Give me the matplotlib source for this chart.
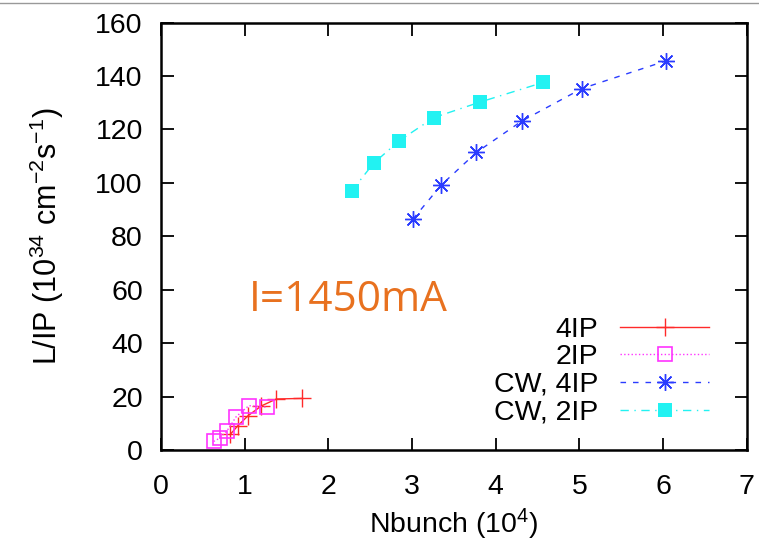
import matplotlib
matplotlib.use('Agg')
import matplotlib.pyplot as plt
from matplotlib.lines import Line2D

plt.rcParams['font.family'] = ['Liberation Sans', 'DejaVu Sans']
plt.rcParams['mathtext.fontset'] = 'custom'
plt.rcParams['mathtext.rm'] = 'Liberation Sans'
plt.rcParams['mathtext.it'] = 'Liberation Sans'

#------------------------------------------------------------------------------
# DATA

# 4IP
nb_4ip = [0.83, 0.92, 1.04, 1.20, 1.38, 1.68]
lum_4ip = [5.9, 9.1, 12.8, 16.5, 19.1, 19.3]

# 2IP
nb_2ip = [0.63, 0.70, 0.79, 0.90, 1.05, 1.27]
lum_2ip = [3.2, 4.4, 7.2, 12.5, 16.6, 16.0]

# CW, 4IP
nb_cw4 = [3.01, 3.35, 3.77, 4.31, 5.03, 6.04]
lum_cw4 = [86.4, 99.2, 111.4, 123.1, 135.3, 145.7]

# CW, 2IP
nb_cw2 = [2.28, 2.54, 2.85, 3.26, 3.81, 4.57]
lum_cw2 = [97.0, 107.3, 115.8, 124.4, 130.2, 137.6]

labels = ['4IP', '2IP', 'CW, 4IP', 'CW, 2IP']

#------------------------------------------------------------------------------
# PLOT THE GRAPH

fs = 20.5
fig = plt.figure(figsize=(7.59, 5.44), dpi=100)
ax = fig.add_axes([0.212, 0.1728, 0.772, 0.7858])

ax.plot(nb_4ip, lum_4ip, color='#ff2a2a', lw=1.0, ls='-', marker='+',
        ms=13, mew=1.0, label=labels[0])
ax.plot(nb_2ip, lum_2ip, color='#ff33ff', lw=1.0, ls=':', marker='s',
        ms=10, mfc='none', mew=1.2, label=labels[1])
ax.plot(nb_cw4, lum_cw4, color='#2a3cff', lw=1.0, ls=(0, (4, 5)), marker=(8, 2, 0),
        ms=12, mew=1.0, label=labels[2])
ax.plot(nb_cw2, lum_cw2, color='#22f2f2', lw=1.0, ls=(0, (6, 4, 1, 4)), marker='s',
        ms=10, mew=0, label=labels[3])

# Axis limits and ticks
ax.set_xlim(0, 7)
ax.set_ylim(0, 160)
ax.set_xticks(range(0, 8))
ax.set_yticks(range(0, 161, 20))
ax.tick_params(direction='in', top=True, right=True, length=9, width=1.3,
               labelsize=fs)
ax.tick_params(axis='x', pad=17)
ax.tick_params(axis='y', pad=13)
for sp in ax.spines.values():
    sp.set_linewidth(1.8)

# Axis labels
ax.set_ylabel('L/IP (10$^{34}$ cm$^{-2}$s$^{-1}$)', fontsize=22, labelpad=21)
ax.set_xlabel('Nbunch (10$^{4}$)', fontsize=fs, labelpad=5)

# Annotation
ax.text(1.05, 56, 'I=1450mA', fontsize=30.5, color='#e8711f',
        family=['Open Sans', 'DejaVu Sans'], va='center', ha='left')

# Legend (gnuplot style: text on the left, right aligned)
leg = ax.legend(loc='lower right', bbox_to_anchor=(0.964, 0.017), frameon=False,
                markerfirst=False, fontsize=fs, handlelength=3.1,
                handletextpad=0.77, labelspacing=0.06, borderpad=0.1)
for col in leg._legend_box._children[-1]._children:
    col.align = 'right'

# thin grey line at the very top (page edge)
fig.add_artist(Line2D([0, 1], [0.994, 0.994], color='#999999', lw=1.0))

fig.savefig('out.png', dpi=100)
